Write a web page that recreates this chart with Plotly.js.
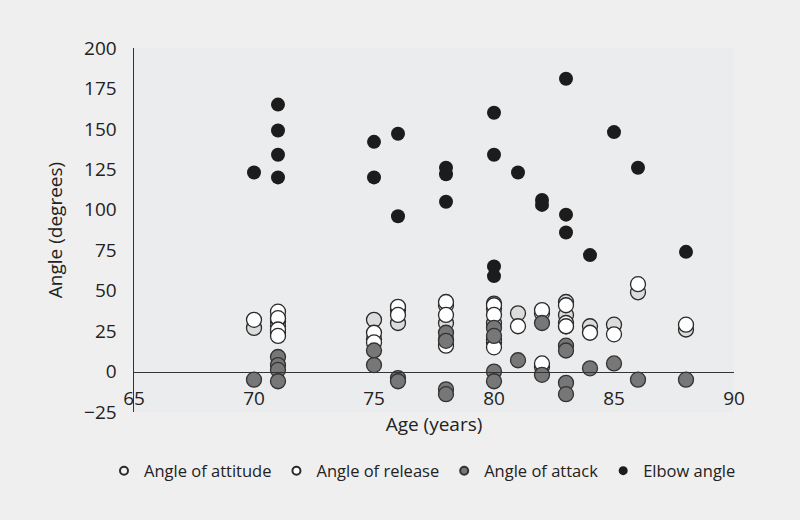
<!DOCTYPE html>
<html>
<head>
<meta charset="utf-8">
<script src="https://cdn.plot.ly/plotly-3.0.1.min.js"></script>
<style>html,body{margin:0;padding:0;background:#efefef;}#chart{width:800px;height:520px;}</style>
</head>
<body>
<div id="chart"></div>
<script>
// Data
var attitudeAge = [70, 71, 71, 71, 71, 75, 75, 76, 76, 78, 78, 78, 80, 80, 80, 80, 81, 82, 82, 83, 83, 83, 84, 85, 86, 88];
var attitudeVal = [27, 33, 31, 28, 24, 32, 20, 38, 30, 41, 30, 20, 42, 39, 30, 18, 36, 36, 3, 43, 35, 28, 28, 29, 49, 26];

var releaseAge = [70, 71, 71, 71, 71, 75, 75, 76, 76, 78, 78, 78, 80, 80, 80, 80, 81, 82, 82, 83, 83, 83, 84, 85, 86, 88];
var releaseVal = [32, 37, 33, 26, 22, 24, 18, 40, 35, 43, 35, 16, 41, 35, 20, 15, 28, 38, 5, 41, 30, 28, 24, 23, 54, 29];

var attackAge = [70, 71, 71, 71, 71, 75, 75, 76, 76, 78, 78, 78, 78, 80, 80, 80, 80, 81, 82, 82, 83, 83, 83, 83, 84, 85, 86, 88];
var attackVal = [-5, 9, 4, 1, -6, 13, 4, -4, -6, 24, 19, -11, -14, 27, 22, 0, -6, 7, 30, -2, 16, 13, -7, -14, 2, 5, -5, -5];

var elbowAge = [70, 71, 71, 71, 71, 75, 75, 76, 76, 78, 78, 78, 80, 80, 80, 80, 81, 82, 82, 83, 83, 83, 84, 85, 86, 88];
var elbowVal = [123, 165, 149, 134, 120, 142, 120, 147, 96, 126, 122, 105, 160, 134, 65, 59, 123, 106, 103, 181, 97, 86, 72, 148, 126, 74];

var seriesNames = ["Angle of attitude", "Angle of release", "Angle of attack", "Elbow angle"];
var xTicks = [65, 70, 75, 80, 85, 90];
var yTicks = [-25, 0, 25, 50, 75, 100, 125, 150, 175, 200];

var FONT = "'Open Sans', 'Noto Sans', sans-serif";
var fills = ["#dcdcdc", "#ffffff", "#777777", "#1c1c1c"];
var outlines = ["#2a2a2a", "#2a2a2a", "#333333", "#1c1c1c"];
var xs = [attitudeAge, releaseAge, attackAge, elbowAge];
var ys = [attitudeVal, releaseVal, attackVal, elbowVal];

var traces = [];
for (var i = 0; i < 4; i++) {
  traces.push({
    type: "scatter", mode: "markers", x: xs[i], y: ys[i], name: seriesNames[i],
    showlegend: false, hoverinfo: "x+y+name",
    marker: {size: i === 3 ? 14 : 15, color: fills[i], line: {color: outlines[i], width: i === 3 ? 0 : 1.3}}
  });
}
for (var j = 0; j < 4; j++) {
  traces.push({
    type: "scatter", mode: "markers", x: [null], y: [null], name: seriesNames[j],
    showlegend: true,
    marker: {size: j === 3 ? 9 : 8, color: j === 0 ? "#f2f2f2" : fills[j], line: {color: outlines[j], width: j === 3 ? 0 : 2}}
  });
}

var layout = {
  width: 800, height: 520,
  paper_bgcolor: "#efefef", plot_bgcolor: "#ebecee",
  margin: {l: 134, r: 66, t: 48, b: 108, autoexpand: false},
  font: {family: FONT, size: 19, color: "#222222"},
  showlegend: true,
  legend: {orientation: "h", x: -0.05, xanchor: "left", y: -0.162, yanchor: "middle",
           font: {family: FONT, size: 16.5, color: "#222"}, bgcolor: "rgba(0,0,0,0)", itemwidth: 30},
  xaxis: {
    range: [65, 90], tickvals: xTicks, ticktext: xTicks.map(String),
    anchor: "free", position: 25 / 225,
    showline: true, linecolor: "#333", linewidth: 1.5,
    showgrid: false, zeroline: false,
    ticks: "outside", ticklen: 9, tickcolor: "rgba(0,0,0,0)",
    tickfont: {family: FONT, size: 19, color: "#222"},
    title: {text: "Age (years)", font: {family: FONT, size: 19, color: "#222"}, standoff: 8}
  },
  yaxis: {
    range: [-25, 200], tickvals: yTicks,
    showline: true, linecolor: "#333", linewidth: 1.5,
    showgrid: false, zeroline: false,
    ticks: "outside", ticklen: 12, tickcolor: "rgba(0,0,0,0)",
    tickfont: {family: FONT, size: 19, color: "#222"},
    title: {text: "Angle (degrees)", font: {family: FONT, size: 19, color: "#222"}, standoff: 16}
  }
};

Plotly.newPlot("chart", traces, layout, {displayModeBar: false, staticPlot: true});
</script>
</body>
</html>
